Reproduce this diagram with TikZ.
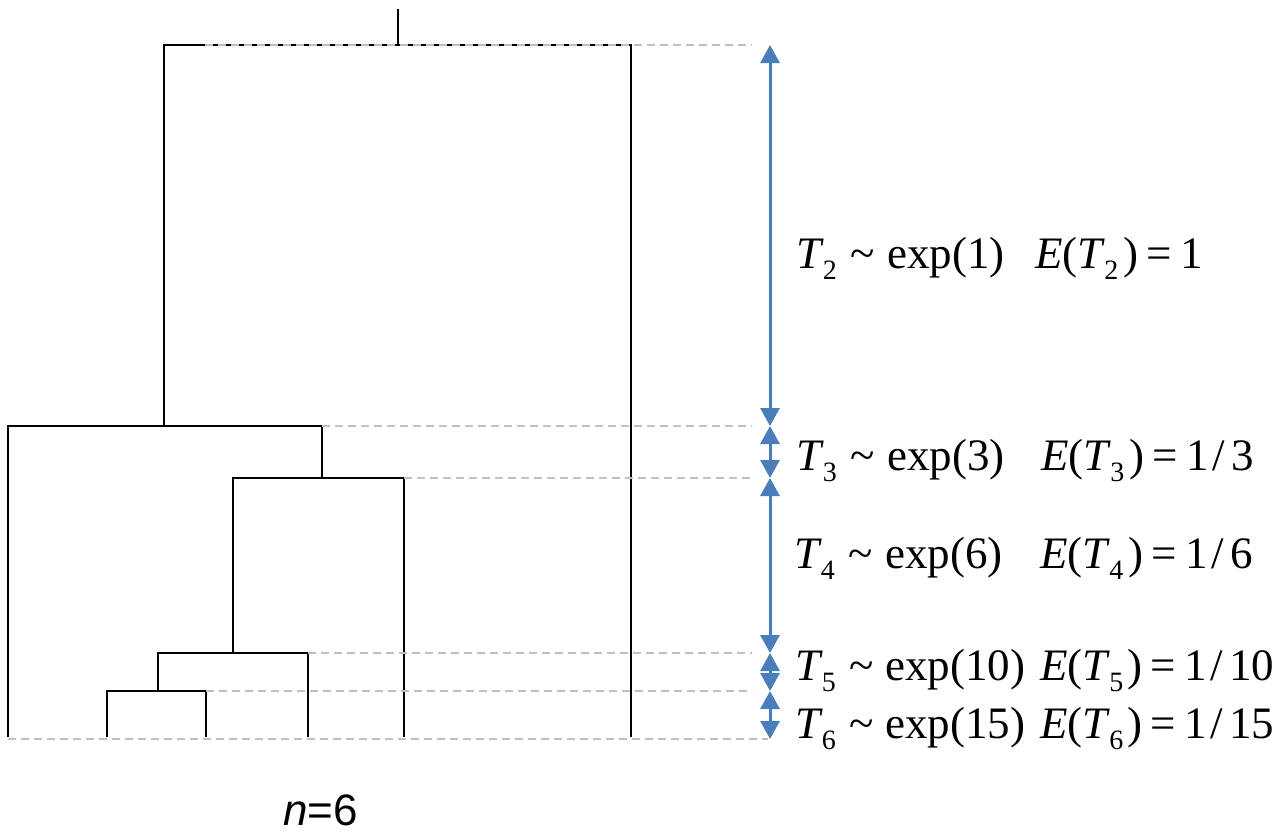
\documentclass[tikz,border=0pt]{standalone}
\usepackage{fontspec}
\setmainfont{Liberation Serif}
\newfontfamily\arialf{Liberation Sans}
\usetikzlibrary{arrows.meta}
\definecolor{arrblue}{HTML}{4A7EBB}
\definecolor{dashgray}{HTML}{C0C0C0}
\newcommand{\Tsub}[1]{\textit{T}\kern-0.02em\raisebox{-0.26em}{\fontsize{28}{30}\selectfont #1}}
\newcommand{\Eq}{\kern0.16em=\kern0.2em}
\newcommand{\Sl}{\kern0.08em/\kern0.14em}
\begin{document}
\begin{tikzpicture}[x=1pt,y=-1pt,
  tree/.style={line width=1.8pt, black},
  guide/.style={line width=1.3pt, dashgray, dash pattern=on 8pt off 5pt},
  span/.style={line width=3pt, arrblue, {Triangle[width=19pt,length=18pt]}-{Triangle[width=19pt,length=18pt]}},
  lbl/.style={anchor=base west, inner sep=0pt, font=\fontsize{45}{50}\selectfont}]
\useasboundingbox (0,0) rectangle (1282,833);
% tree coordinates
\coordinate (root) at (398,9);
\coordinate (rj) at (398,45);
\coordinate (aL) at (164,45);
\coordinate (aR) at (631,45);
\coordinate (leafF) at (631,737);
\coordinate (bT) at (164,426);
\coordinate (bL) at (8,426);
\coordinate (bR) at (322,426);
\coordinate (leafA) at (8,737);
\coordinate (cT) at (322,478);
\coordinate (cL) at (233,478);
\coordinate (cR) at (404,478);
\coordinate (leafE) at (404,737);
\coordinate (dT) at (233,653);
\coordinate (dL) at (158,653);
\coordinate (dR) at (308,653);
\coordinate (leafD) at (308,737);
\coordinate (eT) at (158,691);
\coordinate (eL) at (107,691);
\coordinate (eR) at (206,691);
\coordinate (leafB) at (107,737);
\coordinate (leafC) at (206,737);
% tree
\draw[tree] (root) -- (rj);
\draw[tree] (bT) -- (aL) -- (aR) -- (leafF);
\draw[tree] (leafA) -- (bL) -- (bR) -- (cT);
\draw[tree] (dT) -- (cL) -- (cR) -- (leafE);
\draw[tree] (eT) -- (dL) -- (dR) -- (leafD);
\draw[tree] (leafB) -- (eL) -- (eR) -- (leafC);
% guide lines
\coordinate (g1s) at (205,45);  \coordinate (g1e) at (752,45);
\coordinate (g2e) at (752,426);
\coordinate (g3e) at (752,478);
\coordinate (g4e) at (752,653);
\coordinate (g5e) at (752,691);
\coordinate (g6s) at (8,739);   \coordinate (g6e) at (768,739);
\draw[guide] (g1s) -- (g1e);
\draw[guide] (bR) -- (g2e);
\draw[guide] (cR) -- (g3e);
\draw[guide] (dR) -- (g4e);
\draw[guide] (eR) -- (g5e);
\draw[guide] (g6s) -- (g6e);
% arrows
\coordinate (p1) at (770,45);
\coordinate (p2) at (770,426);
\coordinate (p3) at (770,478);
\coordinate (p4) at (770,653);
\coordinate (p5) at (770,691);
\coordinate (p6) at (770,739);
\draw[span] (p1) -- (p2);
\draw[span] (p2) -- (p3);
\draw[span] (p3) -- (p4);
\draw[span] (p4) -- (p5);
\draw[span] (p5) -- (p6);
% labels
\node[lbl] (l2a) at (796,268) {\Tsub{2}\hspace{0.3em}\textasciitilde\hspace{0.28em}exp(1)};
\node[lbl] (l2b) at (1035,268) {\textit{E}(\Tsub{2}\kern0.12em)\Eq 1};
\node[lbl] (l3a) at (796,470) {\Tsub{3}\hspace{0.3em}\textasciitilde\hspace{0.28em}exp(3)};
\node[lbl] (l3b) at (1041,470) {\textit{E}(\Tsub{3}\kern0.12em)\Eq 1\Sl 3};
\node[lbl] (l4a) at (794,568) {\Tsub{4}\hspace{0.3em}\textasciitilde\hspace{0.28em}exp(6)};
\node[lbl] (l4b) at (1040,568) {\textit{E}(\Tsub{4}\kern0.12em)\Eq 1\Sl 6};
\node[lbl] (l5a) at (795,680) {\Tsub{5}\hspace{0.3em}\textasciitilde\hspace{0.26em}exp(10)};
\node[lbl] (l5b) at (1040,680) {\textit{E}(\Tsub{5}\kern0.1em)\Eq 1\Sl 10};
\node[lbl] (l6a) at (795,738) {\Tsub{6}\hspace{0.3em}\textasciitilde\hspace{0.26em}exp(15)};
\node[lbl] (l6b) at (1040,738) {\textit{E}(\Tsub{6}\kern0.1em)\Eq 1\Sl 15};
% n=6
\node[anchor=base west, inner sep=0pt, font=\arialf\fontsize{44}{48}\selectfont] (nlab) at (283,825) {\textit{n}=6};
\end{tikzpicture}
\end{document}
